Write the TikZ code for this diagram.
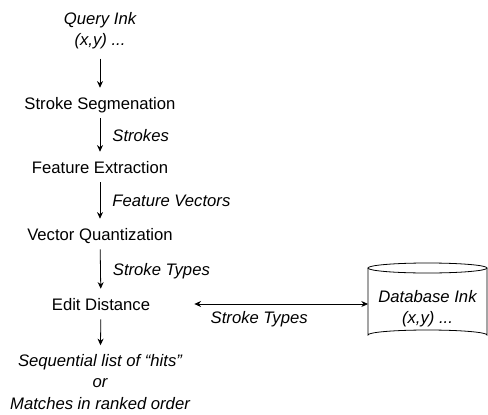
\documentclass[tikz,border=0pt]{standalone}
\usepackage{fontspec}
\setmainfont{Liberation Sans}
\usepackage{tikz}
\usetikzlibrary{arrows.meta, positioning}

\tikzset{
    stage/.style={inner sep=0pt, text height=9pt, text depth=3pt, font=\fontsize{12.5}{16}\selectfont},
    note/.style={stage, font=\fontsize{12.5}{16}\selectfont\itshape},
    ink/.style={inner sep=0pt, align=center, font=\fontsize{12.5}{16}\selectfont\itshape},
    flow/.style={-{Stealth[length=5pt,width=4.5pt]}, semithick, shorten <=3.75pt, shorten >=6.75pt},
}

\begin{document}
\begin{tikzpicture}[x=0.75pt, y=-0.75pt]
    \useasboundingbox (0,0) rectangle (488,414);

        % Query ink at the top
        \node[ink] (query) at (100,30.5) {Query Ink\\(x,y) ...};

        % Processing stages
        \node[stage, anchor=base] (seg) at (100,109) {Stroke Segmenation};
        \node[stage, anchor=base] (feat) at (100,173) {Feature Extraction};
        \node[stage, anchor=base] (vq) at (100,240) {Vector Quantization};
        \node[stage, anchor=base] (edit) at (101,310) {Edit Distance};

        % Output at the bottom
        \node[ink] (result) at (100,382) {Sequential list of “hits”\\or\\Matches in ranked order};

        % Arrows between the stages
        \draw[flow, shorten <=7pt] (query) -- (seg);
        \draw[flow] (seg) -- node[note, right=9pt] {Strokes} (feat);
        \draw[flow] (feat) -- node[note, right=9pt] {Feature Vectors} (vq);
        \draw[flow] (vq) -- node[note, right=9pt] {Stroke Types} (edit);
        \draw[flow] (edit) -- (result);

        % Database cylinder on the right
        \begin{scope}[semithick]
            \draw (368,268) -- (368,335)
                arc[start angle=180, end angle=360, x radius=59.5, y radius=5] -- (487,268);
            \draw (427.5,268) ellipse [x radius=59.5, y radius=5];
            \node[ink] (db) at (427.5,309) {Database Ink\\(x,y) ...};
            \coordinate (dbside) at (368,304);
        \end{scope}

        % Two-way link to the database
        \draw[flow, {Stealth[length=5pt,width=4.5pt]}-{Stealth[length=5pt,width=4.5pt]}, shorten <=33pt, shorten >=0pt]
            (edit.east |- dbside) -- node[note, below=5.25pt] {Stroke Types} (dbside);

\end{tikzpicture}
\end{document}
